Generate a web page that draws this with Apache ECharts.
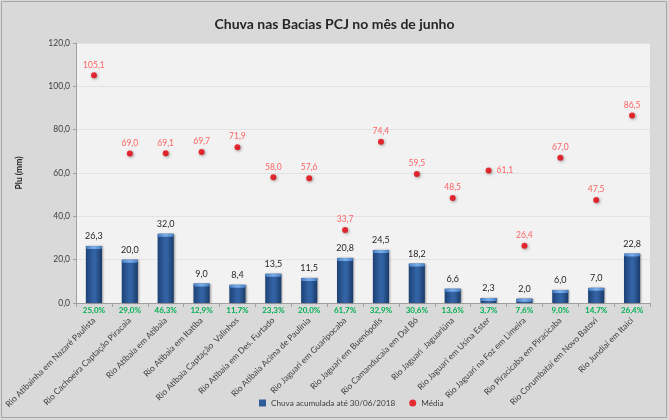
<!DOCTYPE html>
<html>
<head>
<meta charset="utf-8">
<script src="https://cdn.jsdelivr.net/npm/echarts@6/dist/echarts.min.js"></script>
<style>html,body{margin:0;padding:0;background:#d9d9d9;}#c{width:669px;height:420px;}</style>
</head>
<body>
<div id="c"></div>
<script>
const categories = [
  'Rio Atibainha em Nazaré Paulista',
  'Rio Cachoeira Captação Piracaia',
  'Rio Atibaia em Atibaia',
  'Rio Atibaia em Itatiba',
  'Rio Atibaia Captação  Valinhos',
  'Rio Atibaia em Des. Furtado',
  'Rio Atibaia Acima de Paulínia',
  'Rio Jaguari em Guaripocaba',
  'Rio Jaguari em Buenópolis',
  'Rio Camanducaia em Dal Bó',
  'Rio Jaguari  Jaguariúna',
  'Rio Jaguari em Usina Ester',
  'Rio Jaguari na Foz em Limeira',
  'Rio Piracicaba em Piracicaba',
  'Rio Corumbataí em Novo Batovi',
  'Rio Jundiaí em Itaici'
];
const chuva = [26.3, 20.0, 32.0, 9.0, 8.4, 13.5, 11.5, 20.8, 24.5, 18.2, 6.6, 2.3, 2.0, 6.0, 7.0, 22.8];
const media = [105.1, 69.0, 69.1, 69.7, 71.9, 58.0, 57.6, 33.7, 74.4, 59.5, 48.5, 61.1, 26.4, 67.0, 47.5, 86.5];
const percent = ['25,0%', '29,0%', '46,3%', '12,9%', '11,7%', '23,3%', '20,0%', '61,7%', '32,9%', '30,6%', '13,6%', '3,7%', '7,6%', '9,0%', '14,7%', '26,4%'];
const yTicks = { min: 0, max: 120, interval: 20 };

const fmt = v => v.toFixed(1).replace('.', ',');
const FONT = 'Lato';

const chart = echarts.init(document.getElementById('c'), null, { renderer: 'canvas' });
chart.setOption({
  backgroundColor: '#d9d9d9',
  animation: false,
  textStyle: { fontFamily: FONT },
  title: {
    text: 'Chuva nas Bacias PCJ no mês de junho',
    left: 'center', top: 12,
    textStyle: { fontFamily: FONT, fontSize: 14, fontWeight: 'bold', color: '#262626' }
  },
  graphic: [{
    type: 'rect', shape: { x: 1.5, y: 1.5, width: 665, height: 416 },
    style: { fill: 'none', stroke: '#a6a6a6', lineWidth: 1 }, silent: true, z: -1
  }],
  grid: { left: 76, right: 19, top: 43, bottom: 117, show: true, backgroundColor: '#f2f2f2', borderWidth: 0 },
  legend: {
    bottom: 8, left: 254,
    itemWidth: 7, itemHeight: 7, itemGap: 14,
    textStyle: { fontFamily: FONT, fontSize: 8.2, color: '#404040' },
    data: [
      { name: 'Chuva acumulada até 30/06/2018', icon: 'rect', itemStyle: { color: '#2e5c9a' } },
      { name: 'Média', icon: 'circle', itemStyle: { color: '#e8000b' } }
    ]
  },
  xAxis: [{
    type: 'category', data: categories, position: 'bottom',
    axisLine: { lineStyle: { color: '#a0a0a0', width: 1 } },
    axisTick: { show: true, length: 4, lineStyle: { color: '#a0a0a0' } },
    axisLabel: { rotate: 45, interval: 0, margin: 16, fontFamily: FONT, fontSize: 8.5, color: '#404040' }
  }, {
    type: 'category', data: percent, position: 'bottom',
    axisLine: { show: false }, axisTick: { show: false },
    axisLabel: { interval: 0, margin: 3, fontFamily: FONT, fontSize: 8, fontWeight: 'bold', color: '#00b050' }
  }],
  yAxis: {
    type: 'value', min: yTicks.min, max: yTicks.max, interval: yTicks.interval,
    name: 'Plu (mm)', nameLocation: 'middle', nameRotate: 90, nameGap: 52,
    nameTextStyle: { fontFamily: FONT, fontSize: 8.5, fontWeight: 'bold', color: '#262626' },
    axisLine: { show: true, lineStyle: { color: '#a0a0a0' } },
    axisTick: { show: true, length: 3, lineStyle: { color: '#a0a0a0' } },
    splitLine: { lineStyle: { color: '#e3e3e3', width: 1 } },
    axisLabel: { fontFamily: FONT, fontSize: 8.5, color: '#404040', margin: 6, formatter: v => fmt(v) }
  },
  series: [{
    name: 'Chuva acumulada até 30/06/2018',
    type: 'bar', data: chuva, barWidth: '45%', barGap: '-100%',
    itemStyle: {
      color: new echarts.graphic.LinearGradient(0, 0, 1, 0, [
        { offset: 0, color: '#1d4175' },
        { offset: 0.45, color: '#3262a3' },
        { offset: 0.6, color: '#3262a3' },
        { offset: 1, color: '#1a3a68' }
      ]),
      shadowColor: 'rgba(0,0,0,0.35)', shadowBlur: 2, shadowOffsetX: 1, shadowOffsetY: 0
    },
    label: { show: true, position: 'top', distance: 5, fontFamily: FONT, fontSize: 9, color: '#262626', formatter: p => fmt(p.value) },
    z: 2
  }, {
    name: 'cap', type: 'pictorialBar', data: chuva, barWidth: '45%', barGap: '-100%',
    symbol: 'roundRect', symbolSize: ['100%', 3], symbolPosition: 'end',
    itemStyle: { color: new echarts.graphic.LinearGradient(0, 0, 1, 0, [
      { offset: 0, color: '#4a80c8' }, { offset: 0.5, color: '#7aaee8' }, { offset: 1, color: '#4a80c8' }
    ]) },
    silent: true, z: 3
  }, {
    name: 'Média', type: 'scatter', data: media.map((v, i) => i === 11
      ? { value: v, label: { position: 'right', distance: 5 } } : v),
    symbol: 'circle', symbolSize: 6,
    itemStyle: { color: '#e8000b', shadowColor: 'rgba(0,0,0,0.45)', shadowBlur: 3, shadowOffsetX: 1, shadowOffsetY: 1 },
    label: { show: true, position: 'top', distance: 3, fontFamily: FONT, fontSize: 8.5, color: '#ff4040', formatter: p => fmt(p.value) },
    z: 4
  }]
});
</script>
</body>
</html>
